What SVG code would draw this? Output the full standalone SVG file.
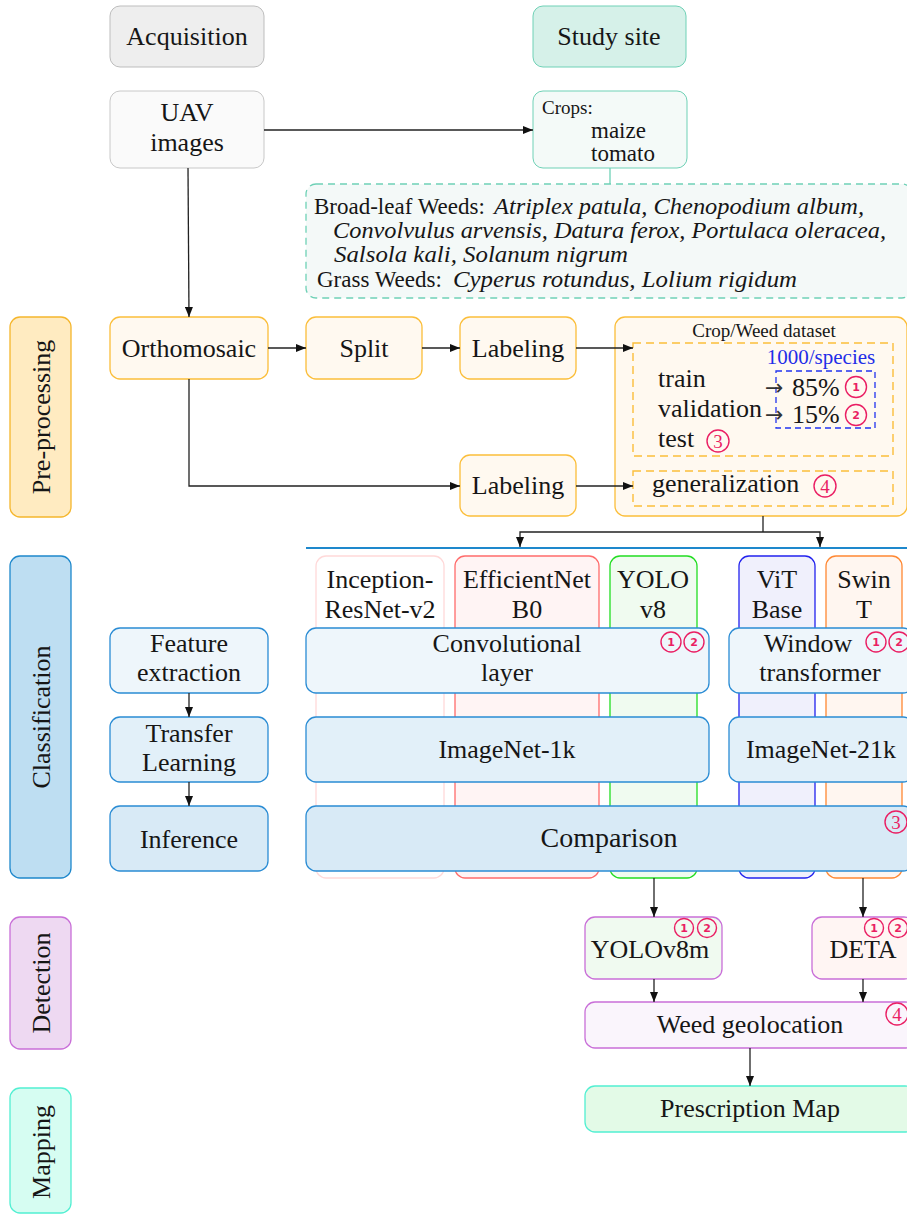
<svg xmlns="http://www.w3.org/2000/svg" width="907" height="1215" viewBox="0 0 907 1215" font-family="'Liberation Serif', 'Times New Roman', serif">
  <defs>
    <marker id="arr" markerUnits="userSpaceOnUse" markerWidth="10" markerHeight="8" refX="10" refY="4" orient="auto">
      <path d="M0,0 L10,4 L0,8 z" fill="#111"/>
    </marker>
    <style>
      text { font-family: "Liberation Serif", "Times New Roman", serif; fill: #161616; }
      .m { font-family: "Liberation Serif", "Times New Roman", serif; font-size: 26px; text-anchor: middle; }
      .l { font-family: "Liberation Serif", "Times New Roman", serif; font-size: 26px; }
      .s { font-family: "Liberation Serif", "Times New Roman", serif; font-size: 23px; }
      .it { font-style: italic; }
      .big { font-family: "Liberation Serif", "Times New Roman", serif; font-size: 28px; text-anchor: middle; }
      .lane { font-family: "Liberation Serif", "Times New Roman", serif; font-size: 26px; text-anchor: middle; }
      .conn { fill: none; stroke: #222; stroke-width: 1.3; }
      .num circle { fill: none; stroke: #EA1E63; stroke-width: 1.4; }
      .num text { fill: #EA1E63; text-anchor: middle; font-family: "DejaVu Sans", sans-serif; font-weight: bold; font-size: 11px; }
      .numL circle { fill: none; stroke: #EA1E63; stroke-width: 1.4; }
      .numL text { fill: #EA1E63; text-anchor: middle; font-family: "Liberation Serif", serif; font-size: 19px; }
      .acq { fill: #EEEEEE; stroke: #BDBDBD; }
      .uav { fill: #FAFAFA; stroke: #C8C8C8; }
      .site { fill: #D6F1E9; stroke: #6FD1B6; }
      .site2 { fill: #F4FAF8; stroke: #6FD1B6; }
      .pre { fill: #FFF9F0; stroke: #FBBE3A; stroke-width: 1.3; }
      .cls1 { fill: #EEF6FB; stroke: #2A8CD4; stroke-width: 1.3; }
      .cls2 { fill: #E2F0F9; stroke: #2A8CD4; stroke-width: 1.3; }
      .cls3 { fill: #D8EAF6; stroke: #2A8CD4; stroke-width: 1.3; }
      .det { stroke: #C96FD8; stroke-width: 1.3; }
    </style>
  </defs>

  <!-- lane labels -->
  <g id="lane-pre">
    <rect x="10" y="317" width="61" height="200" rx="10" fill="#FFEBC1" stroke="#F5B62C" stroke-width="1.3"/>
    <text class="lane" transform="translate(50,417) rotate(-90)">Pre-processing</text>
  </g>
  <g id="lane-cls">
    <rect x="10" y="556" width="61" height="322" rx="10" fill="#BEDEF2" stroke="#1E88CC" stroke-width="1.3"/>
    <text class="lane" transform="translate(50,717) rotate(-90)">Classification</text>
  </g>
  <g id="lane-det">
    <rect x="10" y="917" width="61" height="132" rx="10" fill="#EED9F2" stroke="#C96FD8" stroke-width="1.3"/>
    <text class="lane" transform="translate(50,983) rotate(-90)">Detection</text>
  </g>
  <g id="lane-map">
    <rect x="10" y="1088" width="61" height="125" rx="10" fill="#D6FDF2" stroke="#52EFD2" stroke-width="1.3"/>
    <text class="lane" transform="translate(50,1152) rotate(-90)">Mapping</text>
  </g>

  <!-- acquisition / study site -->
  <g id="acquisition">
    <rect class="acq" x="110" y="6" width="154" height="61" rx="10"/>
    <text class="m" x="187" y="45">Acquisition</text>
  </g>
  <g id="study-site">
    <rect class="site" x="533" y="6" width="153" height="61" rx="10"/>
    <text class="m" x="609" y="45">Study site</text>
  </g>
  <g id="uav">
    <rect class="uav" x="110" y="91" width="154" height="77" rx="10"/>
    <text class="m" x="187" y="121">UAV</text>
    <text class="m" x="187" y="151">images</text>
  </g>
  <g id="crops">
    <rect class="site2" x="533" y="91" width="154" height="77" rx="10"/>
    <text x="542" y="114" style="font-size:19px">Crops:</text>
    <text x="591" y="138" style="font-size:23px">maize</text>
    <text x="591" y="161" style="font-size:23px">tomato</text>
  </g>
  <g id="weeds">
    <rect x="306" y="184" width="606" height="114" rx="10" fill="#F4F9F8" stroke="#6FD1B6" stroke-width="1.3" stroke-dasharray="7,5"/>
    <text class="s" x="314" y="214">Broad-leaf Weeds:</text>
    <text class="s it" x="494" y="214" textLength="370" lengthAdjust="spacingAndGlyphs">Atriplex patula, Chenopodium album,</text>
    <text class="s it" x="333" y="238" textLength="553" lengthAdjust="spacingAndGlyphs">Convolvulus arvensis, Datura ferox, Portulaca oleracea,</text>
    <text class="s it" x="334" y="262" textLength="294" lengthAdjust="spacingAndGlyphs">Salsola kali, Solanum nigrum</text>
    <text class="s" x="317" y="287">Grass Weeds:</text>
    <text class="s it" x="453" y="287" textLength="344" lengthAdjust="spacingAndGlyphs">Cyperus rotundus, Lolium rigidum</text>
  </g>

  <!-- pre-processing -->
  <g id="orthomosaic">
    <rect class="pre" x="110" y="317" width="158" height="62" rx="10"/>
    <text class="m" x="189" y="357">Orthomosaic</text>
  </g>
  <g id="split">
    <rect class="pre" x="306" y="317" width="116" height="62" rx="10"/>
    <text class="m" x="364" y="357">Split</text>
  </g>
  <g id="labeling-1">
    <rect class="pre" x="460" y="317" width="116" height="62" rx="10"/>
    <text class="m" x="518" y="357">Labeling</text>
  </g>
  <g id="labeling-2">
    <rect class="pre" x="460" y="455" width="116" height="61" rx="10"/>
    <text class="m" x="518" y="494">Labeling</text>
  </g>
  <g id="dataset">
    <rect class="pre" x="615" y="317" width="292" height="199" rx="10"/>
    <text x="764" y="337" style="font-size:19px;text-anchor:middle">Crop/Weed dataset</text>
    <rect x="633" y="343" width="260" height="113" fill="none" stroke="#FBBE3A" stroke-width="1.4" stroke-dasharray="8,5"/>
    <text x="821" y="364" style="font-size:21px;text-anchor:middle;fill:#1F2EE8">1000/species</text>
    <rect x="776" y="371" width="99" height="57" fill="none" stroke="#2233EE" stroke-width="1.3" stroke-dasharray="6,4"/>
    <text class="l" x="658" y="387">train</text>
    <text class="l" x="658" y="417">validation</text>
    <text class="l" x="658" y="447">test</text>
    <text x="765" y="395" style="font-family:'DejaVu Sans',sans-serif;font-size:22px;fill:#333">→</text>
    <text x="765" y="422" style="font-family:'DejaVu Sans',sans-serif;font-size:22px;fill:#333">→</text>
    <text class="l" x="792" y="396">85%</text>
    <text class="l" x="792" y="423">15%</text>
    <g class="num"><circle cx="856" cy="387" r="10.5"/><text x="856" y="391">1</text></g>
    <g class="num"><circle cx="856" cy="415" r="10.5"/><text x="856" y="419">2</text></g>
    <g class="numL"><circle cx="718" cy="441" r="11"/><text x="718" y="447.5">3</text></g>
    <rect x="633" y="471" width="260" height="35" fill="none" stroke="#FBBE3A" stroke-width="1.4" stroke-dasharray="8,5"/>
    <text class="l" x="652" y="492">generalization</text>
    <g class="numL"><circle cx="825" cy="486" r="11"/><text x="825" y="492.5">4</text></g>
  </g>

  <!-- classification: model columns -->
  <line x1="306" y1="548" x2="907" y2="548" stroke="#1E88CC" stroke-width="2"/>
  <g id="col-inception">
    <rect x="316" y="556" width="128" height="322" rx="10" fill="#FFFFFF" stroke="#FFD9D9" stroke-width="1.3"/>
    <text class="m" x="380" y="588">Inception-</text>
    <text class="m" x="380" y="618">ResNet-v2</text>
  </g>
  <g id="col-efficientnet">
    <rect x="455" y="556" width="144" height="322" rx="10" fill="#FFF4F4" stroke="#FF6B6B" stroke-width="1.3"/>
    <text class="m" x="527" y="588">EfficientNet</text>
    <text class="m" x="527" y="618">B0</text>
  </g>
  <g id="col-yolo">
    <rect x="610" y="556" width="87" height="322" rx="10" fill="#F0FBF0" stroke="#22DD22" stroke-width="1.3"/>
    <text class="m" x="653" y="588">YOLO</text>
    <text class="m" x="653" y="618">v8</text>
  </g>
  <g id="col-vit">
    <rect x="739" y="556" width="76" height="322" rx="10" fill="#F0F0FC" stroke="#2222EE" stroke-width="1.3"/>
    <text class="m" x="777" y="588">ViT</text>
    <text class="m" x="777" y="618">Base</text>
  </g>
  <g id="col-swin">
    <rect x="826" y="556" width="76" height="322" rx="10" fill="#FFF6F0" stroke="#FF8833" stroke-width="1.3"/>
    <text class="m" x="864" y="588">Swin</text>
    <text class="m" x="864" y="618">T</text>
  </g>

  <!-- classification: stages -->
  <g id="feature-extraction">
    <rect class="cls1" x="110" y="628" width="158" height="65" rx="10"/>
    <text class="m" x="189" y="652">Feature</text>
    <text class="m" x="189" y="681">extraction</text>
  </g>
  <g id="transfer-learning">
    <rect class="cls2" x="110" y="717" width="158" height="65" rx="10"/>
    <text class="m" x="189" y="742">Transfer</text>
    <text class="m" x="189" y="771">Learning</text>
  </g>
  <g id="inference">
    <rect class="cls3" x="110" y="806" width="158" height="65" rx="10"/>
    <text class="m" x="189" y="848">Inference</text>
  </g>
  <g id="conv-layer">
    <rect class="cls1" x="306" y="628" width="403" height="65" rx="10"/>
    <text class="m" x="507" y="652">Convolutional</text>
    <text class="m" x="507" y="681">layer</text>
    <g class="num"><circle cx="671" cy="642" r="10"/><text x="671" y="646">1</text></g>
    <g class="num"><circle cx="694" cy="642" r="10"/><text x="694" y="646">2</text></g>
  </g>
  <g id="window-transformer">
    <rect class="cls1" x="729" y="628" width="184" height="65" rx="10"/>
    <text class="m" x="808" y="652">Window</text>
    <text class="m" x="820" y="681">transformer</text>
    <g class="num"><circle cx="876" cy="642" r="10"/><text x="876" y="646">1</text></g>
    <g class="num"><circle cx="899" cy="642" r="10"/><text x="899" y="646">2</text></g>
  </g>
  <g id="imagenet-1k">
    <rect class="cls2" x="306" y="717" width="403" height="65" rx="10"/>
    <text class="m" x="507" y="758">ImageNet-1k</text>
  </g>
  <g id="imagenet-21k">
    <rect class="cls2" x="729" y="717" width="184" height="65" rx="10"/>
    <text class="m" x="821" y="758">ImageNet-21k</text>
  </g>
  <g id="comparison">
    <rect class="cls3" x="306" y="806" width="607" height="65" rx="10"/>
    <text class="big" x="609" y="847">Comparison</text>
    <g class="numL"><circle cx="896" cy="822" r="11"/><text x="896" y="828.5">3</text></g>
  </g>

  <!-- detection -->
  <g id="yolov8m">
    <rect class="det" x="585" y="917" width="137" height="62" rx="10" fill="#F0FAF0"/>
    <text class="m" x="650" y="958">YOLOv8m</text>
    <g class="num"><circle cx="684" cy="928" r="9.5"/><text x="684" y="932">1</text></g>
    <g class="num"><circle cx="707" cy="928" r="9.5"/><text x="707" y="932">2</text></g>
  </g>
  <g id="deta">
    <rect class="det" x="812" y="917" width="102" height="62" rx="10" fill="#FFF5F3"/>
    <text class="m" x="863" y="958">DETA</text>
    <g class="num"><circle cx="874" cy="928" r="9.5"/><text x="874" y="932">1</text></g>
    <g class="num"><circle cx="898" cy="928" r="9.5"/><text x="898" y="932">2</text></g>
  </g>
  <g id="weed-geolocation">
    <rect class="det" x="585" y="1002" width="330" height="46" rx="10" fill="#FAF5FC"/>
    <text class="m" x="750" y="1033">Weed geolocation</text>
    <g class="numL"><circle cx="897" cy="1014" r="11"/><text x="897" y="1020.5">4</text></g>
  </g>

  <!-- mapping -->
  <g id="prescription-map">
    <rect x="585" y="1086" width="330" height="46" rx="10" fill="#E3FAE7" stroke="#52EFD2" stroke-width="1.3"/>
    <text class="m" x="750" y="1117">Prescription Map</text>
  </g>

  <!-- connectors -->
  <g id="connectors">
    <path class="conn" d="M264,130 H533" marker-end="url(#arr)"/>
    <path d="M610,168 V184" fill="none" stroke="#6FD1B6" stroke-width="1.3"/>
    <path class="conn" d="M188,168 L189,317" marker-end="url(#arr)"/>
    <path class="conn" d="M268,348 H306" marker-end="url(#arr)"/>
    <path class="conn" d="M422,348 H460" marker-end="url(#arr)"/>
    <path class="conn" d="M576,348 H633" marker-end="url(#arr)"/>
    <path class="conn" d="M189,379 V486 H460" marker-end="url(#arr)"/>
    <path class="conn" d="M576,486 H633" marker-end="url(#arr)"/>
    <path class="conn" d="M763,516 V532"/>
    <path class="conn" d="M763,532 H520 V547" marker-end="url(#arr)"/>
    <path class="conn" d="M763,532 H820 V547" marker-end="url(#arr)"/>
    <path class="conn" d="M189,693 V717" marker-end="url(#arr)"/>
    <path class="conn" d="M189,782 V806" marker-end="url(#arr)"/>
    <path class="conn" d="M654,878 V917" marker-end="url(#arr)"/>
    <path class="conn" d="M863,878 V917" marker-end="url(#arr)"/>
    <path class="conn" d="M654,979 V1002" marker-end="url(#arr)"/>
    <path class="conn" d="M863,979 V1002" marker-end="url(#arr)"/>
    <path class="conn" d="M750,1048 V1086" marker-end="url(#arr)"/>
  </g>
</svg>
